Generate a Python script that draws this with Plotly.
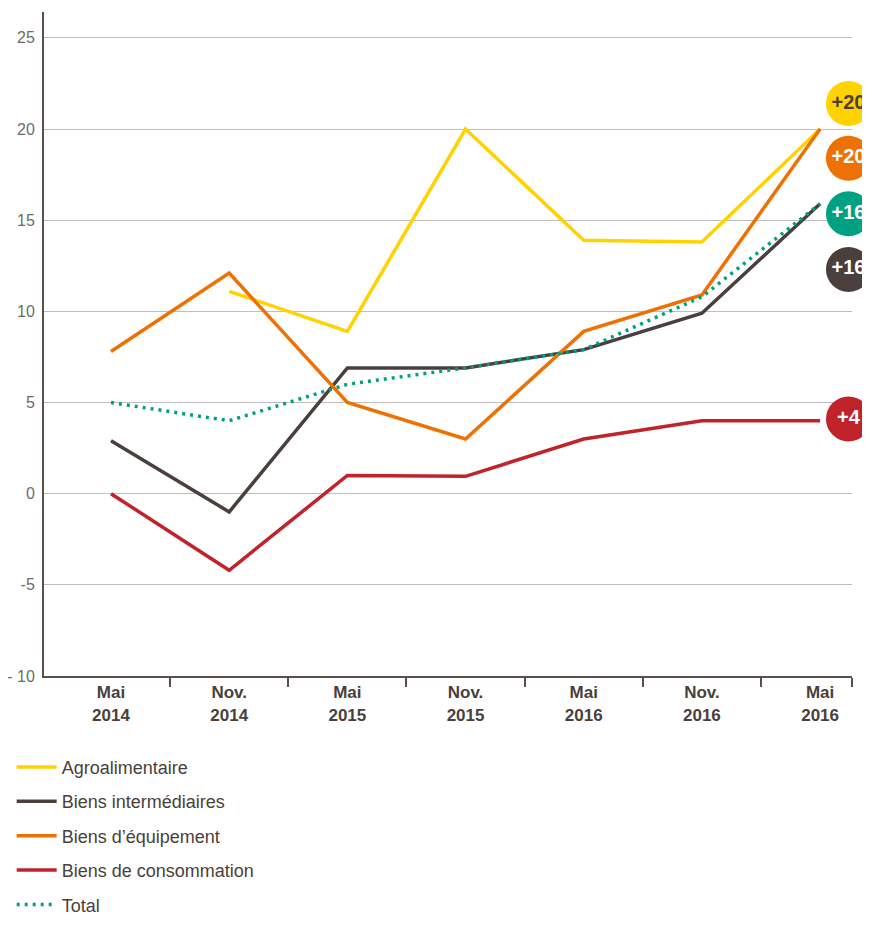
import plotly.graph_objects as go

# données
periodes = ["Mai<br>2014", "Nov.<br>2014", "Mai<br>2015", "Nov.<br>2015",
            "Mai<br>2016", "Nov.<br>2016", "Mai<br>2016"]
agro = [None, 11.1, 8.9, 20.0, 13.9, 13.8, 20.0]
intermediaires = [2.9, -1.0, 6.9, 6.9, 7.9, 9.9, 15.9]
equipement = [7.8, 12.1, 5.0, 3.0, 8.9, 10.9, 20.0]
consommation = [0.0, -4.2, 1.0, 0.95, 3.0, 4.0, 4.0]
total = [5.0, 4.0, 6.0, 6.9, 7.9, 10.8, 15.9]

badges_txt = ["+20", "+20", "+16", "+16", "+4"]
badges_y = [21.4, 18.4, 15.35, 12.3, 4.1]

JAUNE = "#FFD200"
BRUN = "#4a3f3c"
ORANGE = "#EE7203"
ROUGE = "#C1232B"
VERT = "#00A082"

x = list(range(len(periodes)))

fig = go.Figure()

series = [
    ("Agroalimentaire", agro, JAUNE, "solid"),
    ("Biens intermédiaires", intermediaires, BRUN, "solid"),
    ("Biens d\u2019équipement", equipement, ORANGE, "solid"),
    ("Biens de consommation", consommation, ROUGE, "solid"),
    ("Total", total, VERT, "3px,5px"),
]
for i, (nom, vals, coul, dash) in enumerate(series):
    fig.add_trace(go.Scatter(x=x, y=vals, mode="lines", name=nom,
                             legendgroup=str(i),
                             line=dict(color=coul, width=3.5, dash=dash)))

# pastilles à droite
coul_badges = [JAUNE, ORANGE, VERT, BRUN, ROUGE]
txt_coul = [BRUN, "white", "white", "white", "white"]
fig.add_trace(go.Scatter(
    x=[6.24] * len(badges_y), y=badges_y, mode="markers+text",
    text=["<b>%s</b>" % t for t in badges_txt], textposition="middle center",
    textfont=dict(family="Liberation Sans", size=20, color=txt_coul),
    marker=dict(size=45, color=coul_badges, line=dict(width=0)),
    showlegend=False, cliponaxis=False, hoverinfo="skip"))

# la page a une marge de 8 px : on compense
fig.update_layout(
    width=862, height=918,
    plot_bgcolor="white", paper_bgcolor="white",
    margin=dict(l=36, r=18, t=4, b=248),
    font=dict(family="Liberation Sans", color=BRUN),
    legend=dict(x=-0.04, y=-0.3715, xanchor="left", yanchor="bottom",
                traceorder="grouped", tracegroupgap=8,
                font=dict(size=18, color=BRUN),
                itemwidth=40),
)

fig.update_xaxes(
    range=[-0.567, 6.27], tickvals=x, ticktext=["<b>%s</b>" % p for p in periodes],
    tickfont=dict(size=17, color=BRUN), ticks="", automargin=False,
    showgrid=False, zeroline=False,
    showline=True, linecolor="#5a4f4c", linewidth=2,
    minor=dict(tickvals=[0.5, 1.5, 2.5, 3.5, 4.5, 5.5, 6.27], ticks="outside",
               ticklen=9, tickwidth=2, tickcolor="#5a4f4c", showgrid=False),
)
fig.update_yaxes(
    range=[-10, 26.42], tickvals=[-10, -5, 0, 5, 10, 15, 20, 25],
    ticktext=["- 10", "-5", "0", "5", "10", "15", "20", "25"],
    tickfont=dict(size=16, color="#6b6b6b"), ticks="", ticklabelstandoff=4,
    automargin=False,
    showgrid=True, gridcolor="#c4bcbc", gridwidth=1, zeroline=False,
    showline=True, linecolor="#5a4f4c", linewidth=2,
)

fig.write_html("out.html")
